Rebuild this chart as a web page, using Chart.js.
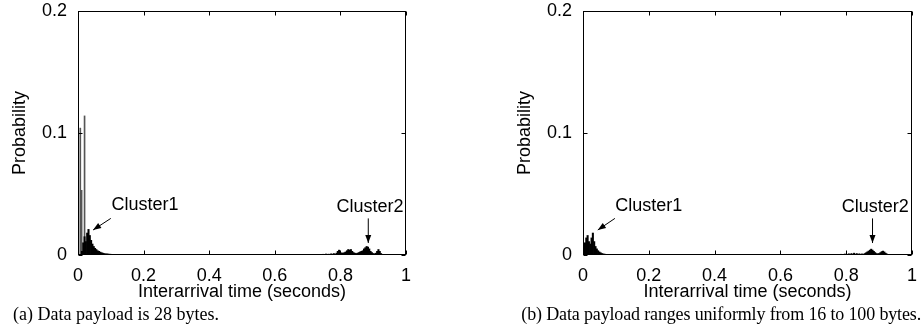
<!DOCTYPE html>
<html>
<head>
<meta charset="utf-8">
<script src="https://cdn.jsdelivr.net/npm/chart.js@4.4.1/dist/chart.umd.min.js"></script>
<style>
  body { margin: 0; background: #fff; width: 924px; height: 329px; position: relative; overflow: hidden; }
  canvas { position: absolute; top: 0; }
  #chartA { left: 0; }
  #chartB { left: 505px; }
  .caption { position: absolute; top: 304px; font-family: "Liberation Serif", "Times New Roman", serif; font-size: 18px; color: #000; white-space: nowrap; }
  #capA { left: 13px; }
  #capB { right: 3px; letter-spacing: -0.15px; }
</style>
</head>
<body>
<canvas id="chartA" width="462" height="329"></canvas>
<canvas id="chartB" width="419" height="329"></canvas>
<div class="caption" id="capA">(a) Data payload is 28 bytes.</div>
<div class="caption" id="capB">(b) Data payload ranges uniformly from 16 to 100 bytes.</div>
<script>
const xTicks = [0, 0.2, 0.4, 0.6, 0.8, 1];
const yTicks = [0, 0.1, 0.2];

// (a) 28 byte payload - histogram bins (seconds) and probability
const timesA = [
  0.012, 0.016, 0.020, 0.024, 0.028, 0.032, 0.036, 0.040, 0.044, 0.048,
  0.052, 0.056, 0.060, 0.064, 0.068, 0.072, 0.076, 0.080, 0.084, 0.088,
  0.092, 0.096, 0.100, 0.104, 0.108, 0.112, 0.116, 0.120, 0.128, 0.136,
  0.144, 0.150,
  0.700, 0.712, 0.724, 0.736, 0.748, 0.756, 0.764, 0.772, 0.780, 0.788,
  0.792, 0.796, 0.800, 0.804, 0.808, 0.812, 0.816, 0.820, 0.824, 0.828,
  0.832, 0.836, 0.840, 0.844, 0.848, 0.852, 0.856, 0.860, 0.864, 0.868,
  0.872, 0.876, 0.880, 0.884, 0.888, 0.892, 0.896, 0.900, 0.904, 0.908,
  0.912, 0.916, 0.920, 0.924, 0.928, 0.932
];
const probA = [
  0.003, 0.010, 0.015, 0.011, 0.018, 0.021, 0.016, 0.012, 0.009, 0.007,
  0.0055, 0.0045, 0.0035, 0.003, 0.0024, 0.0019, 0.0015, 0.0012, 0.001, 0.0009,
  0.0008, 0.0007, 0.0006, 0.0005, 0.0005, 0.0004, 0.0004, 0.0003, 0.0003, 0.0002,
  0.0002, 0.0001,
  0.0003, 0.0004, 0.0005, 0.0004, 0.0006, 0.0008, 0.0007, 0.001, 0.0012, 0.0015,
  0.003, 0.004, 0.0012, 0.0018, 0.0014, 0.002, 0.0025, 0.0035, 0.0045, 0.004,
  0.0045, 0.003, 0.002, 0.0015, 0.0012, 0.0015, 0.002, 0.0025, 0.003, 0.0035,
  0.005, 0.006, 0.007, 0.0065, 0.005, 0.003, 0.002, 0.0012, 0.001, 0.0015,
  0.003, 0.0045, 0.003, 0.0012, 0.0005, 0.0003
];
const spikeTimesA = [0.007, 0.011, 0.020];
const spikeProbA = [0.104, 0.053, 0.114];

// (b) payload uniform 16..100 bytes
const timesB = [
  0.002, 0.006, 0.010, 0.014, 0.018, 0.022, 0.026, 0.030, 0.034, 0.038,
  0.042, 0.046, 0.050, 0.054, 0.058, 0.062, 0.066, 0.070, 0.076, 0.084,
  0.092, 0.100,
  0.740, 0.760, 0.772, 0.784, 0.796, 0.808, 0.816, 0.824, 0.832, 0.840,
  0.848, 0.856, 0.860, 0.864, 0.868, 0.872, 0.876, 0.880, 0.884, 0.888,
  0.892, 0.896, 0.900, 0.904, 0.908, 0.912, 0.916, 0.920, 0.924, 0.930
];
const probB = [
  0.004, 0.010, 0.014, 0.016, 0.011, 0.009, 0.014, 0.018, 0.011, 0.007,
  0.005, 0.0035, 0.0025, 0.0018, 0.0012, 0.0009, 0.0007, 0.0005, 0.0004, 0.0003,
  0.0002, 0.0002,
  0.0003, 0.0004, 0.0005, 0.0006, 0.0008, 0.001, 0.0012, 0.0015, 0.0012, 0.001,
  0.0009, 0.0012, 0.0018, 0.0025, 0.0032, 0.004, 0.0048, 0.004, 0.003, 0.002,
  0.0012, 0.001, 0.0012, 0.002, 0.0028, 0.0032, 0.0025, 0.0015, 0.0008, 0.0004
];

const notesA = [
  { text: 'Cluster1', at: [0.204, 0.041], from: [0.10, 0.030], to: [0.046, 0.0205] },
  { text: 'Cluster2', at: [0.89, 0.039], from: [0.885, 0.030], to: [0.885, 0.0098] }
];
const notesB = [
  { text: 'Cluster1', at: [0.20, 0.040], from: [0.097, 0.030], to: [0.045, 0.0205] },
  { text: 'Cluster2', at: [0.888, 0.039], from: [0.88, 0.030], to: [0.88, 0.0098] }
];

Chart.defaults.font.family = '"Liberation Sans", Arial, sans-serif';
Chart.defaults.font.size = 18;
Chart.defaults.color = '#000';

// gnuplot-like frame, inward tick marks and the arrow labels
const framePlugin = {
  id: 'frame',
  afterDraw(chart, args, opts) {
    const { ctx, chartArea: a, scales: { x, y } } = chart;
    const L = Math.round(a.left) + 0.5, R = Math.round(a.right) - 0.5;
    const T = Math.round(a.top) + 0.5, B = Math.round(a.bottom) - 0.5;
    ctx.save();
    ctx.strokeStyle = '#000';
    ctx.lineWidth = 1;
    ctx.strokeRect(L, T, R - L, B - T);
    ctx.beginPath();
    xTicks.forEach(v => {
      const px = Math.round(x.getPixelForValue(v)) + 0.5;
      ctx.moveTo(px, B); ctx.lineTo(px, B - 4);
      ctx.moveTo(px, T); ctx.lineTo(px, T + 4);
    });
    yTicks.forEach(v => {
      const py = Math.round(y.getPixelForValue(v)) + 0.5;
      ctx.moveTo(L, py); ctx.lineTo(L + 4, py);
      ctx.moveTo(R, py); ctx.lineTo(R - 4, py);
    });
    ctx.stroke();

    ctx.fillStyle = '#000';
    ctx.font = '18px "Liberation Sans", Arial, sans-serif';
    ctx.textAlign = 'center';
    ctx.textBaseline = 'middle';
    opts.notes.forEach(n => {
      ctx.fillText(n.text, x.getPixelForValue(n.at[0]), y.getPixelForValue(n.at[1]));
      const x0 = x.getPixelForValue(n.from[0]), y0 = y.getPixelForValue(n.from[1]);
      const x1 = x.getPixelForValue(n.to[0]), y1 = y.getPixelForValue(n.to[1]);
      const ang = Math.atan2(y1 - y0, x1 - x0);
      ctx.beginPath();
      ctx.moveTo(x0, y0); ctx.lineTo(x1, y1);
      ctx.stroke();
      ctx.beginPath();
      ctx.moveTo(x1, y1);
      ctx.lineTo(x1 - 8 * Math.cos(ang) + 3 * Math.sin(ang), y1 - 8 * Math.sin(ang) - 3 * Math.cos(ang));
      ctx.lineTo(x1 - 8 * Math.cos(ang) - 3 * Math.sin(ang), y1 - 8 * Math.sin(ang) + 3 * Math.cos(ang));
      ctx.closePath();
      ctx.fill();
    });
    ctx.restore();
  }
};

function makeChart(id, times, probs, spikeT, spikeP, notes, padRight) {
  const datasets = [{
    data: times.map((t, i) => ({ x: t, y: probs[i] })),
    backgroundColor: '#000',
    barThickness: 1.4,
    grouped: false
  }];
  if (spikeT.length) {
    datasets.push({
      data: spikeT.map((t, i) => ({ x: t, y: spikeP[i] })),
      backgroundColor: '#555',
      barThickness: 1,
      grouped: false
    });
  }
  return new Chart(document.getElementById(id), {
    type: 'bar',
    data: { datasets },
    plugins: [framePlugin],
    options: {
      responsive: false,
      animation: false,
      layout: { padding: { top: 11, right: padRight, bottom: 0, left: 0 } },
      plugins: {
        legend: { display: false },
        tooltip: { enabled: false },
        frame: { notes }
      },
      scales: {
        x: {
          type: 'linear', min: 0, max: 1, offset: false,
          afterBuildTicks: s => { s.ticks = xTicks.map(v => ({ value: v })); },
          afterFit: s => { s.height = 74; s.paddingLeft = 0; s.paddingRight = 0; },
          ticks: { padding: 10, maxRotation: 0, callback: v => String(v) },
          grid: { display: false, drawTicks: false },
          border: { display: false },
          title: { display: true, text: 'Interarrival time (seconds)', padding: { top: 0, bottom: 26 } }
        },
        y: {
          min: 0, max: 0.2,
          afterBuildTicks: s => { s.ticks = yTicks.map(v => ({ value: v })); },
          afterFit: s => { s.width = 78; s.paddingTop = 0; s.paddingBottom = 0; },
          ticks: { padding: 11, callback: v => String(v) },
          grid: { display: false, drawTicks: false },
          border: { display: false },
          title: { display: true, text: 'Probability', padding: { top: 9, bottom: 0 } }
        }
      }
    }
  });
}

makeChart('chartA', timesA, probA, spikeTimesA, spikeProbA, notesA, 56);
makeChart('chartB', timesB, probB, [], [], notesB, 12);
</script>
</body>
</html>
